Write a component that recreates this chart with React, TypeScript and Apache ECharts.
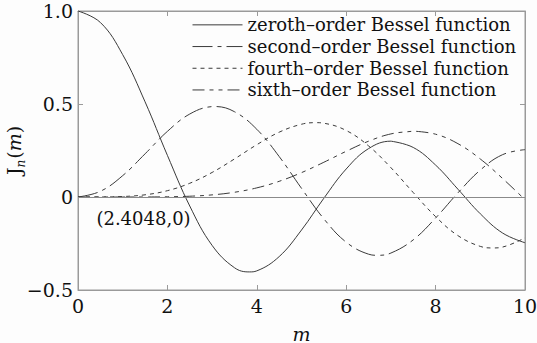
import React, { useEffect, useRef } from "react";
import * as echarts from "echarts";

// Sample points of m
const mValues = [0, 0.5, 1, 1.5, 2, 2.5, 3, 3.5, 4, 4.5, 5, 5.5, 6, 6.5, 7, 7.5, 8, 8.5, 9, 9.5, 10];

// Bessel function values J_n(m) at the sample points
const j0Values = [1, 0.9385, 0.7652, 0.5118, 0.2239, -0.0484, -0.2601, -0.3801, -0.3971, -0.3205, -0.1776, -0.0068, 0.1506, 0.2601, 0.3001, 0.2663, 0.1717, 0.0419, -0.0903, -0.1939, -0.2459];
const j2Values = [0, 0.0306, 0.1149, 0.2321, 0.3528, 0.4461, 0.4861, 0.4586, 0.3641, 0.2178, 0.0466, -0.1173, -0.2429, -0.3074, -0.3014, -0.2303, -0.113, 0.0223, 0.1448, 0.2279, 0.2546];
const j4Values = [0, 0.0002, 0.0025, 0.0118, 0.034, 0.0738, 0.132, 0.2044, 0.2811, 0.3484, 0.3912, 0.3967, 0.3576, 0.2748, 0.1578, 0.0238, -0.1054, -0.2077, -0.2655, -0.2691, -0.2196];
const j6Values = [0, 0, 0.00002, 0.0002, 0.0012, 0.0042, 0.0114, 0.0254, 0.0491, 0.0843, 0.131, 0.1868, 0.2458, 0.2999, 0.3392, 0.3541, 0.3376, 0.2867, 0.2043, 0.0993, -0.0145];

// Turning points [m, J_n(m)] of each curve inside 0..10
const j0Extrema = [[3.8317, -0.4028], [7.0156, 0.3001]];
const j2Extrema = [[3.0542, 0.4865], [6.7061, -0.3135]];
const j4Extrema = [[5.3176, 0.3997], [9.2824, -0.274]];
const j6Extrema = [[7.5013, 0.3543]];

const seriesNames = [
  "zeroth\u2013order Bessel function",
  "second\u2013order Bessel function",
  "fourth\u2013order Bessel function",
  "sixth\u2013order Bessel function",
];

const firstZero = [2.4048, 0];
const firstZeroLabel = "(2.4048,0)";

const FONT = "DejaVu Serif";
const LINE = "#3a3a3a";
const FRAME = "#9a9a9a";
const TEXT = "#111";

function curve(ys: number[], extra: number[][]) {
  const pts = mValues.map((m, i) => [m, ys[i]]).concat(extra);
  return pts.sort((a, b) => a[0] - b[0]);
}

export default function App() {
  const ref = useRef<HTMLDivElement>(null);

  useEffect(() => {
    if (!ref.current) return;
    const chart = echarts.init(ref.current, null, { renderer: "svg" });

    const dashes: (number[] | "solid")[] = [
      "solid",
      [20, 5, 4, 5],
      [4, 4],
      [12, 5, 4, 5, 4, 5],
    ];
    const data = [
      curve(j0Values, j0Extrema),
      curve(j2Values, j2Extrema),
      curve(j4Values, j4Extrema),
      curve(j6Values, j6Extrema),
    ];

    const series: any[] = data.map((pts, i) => ({
      type: "line",
      name: seriesNames[i],
      data: pts,
      smooth: 0.4,
      symbol: "none",
      legendIcon: "rect",
      lineStyle: { color: LINE, width: 1, type: dashes[i] },
      itemStyle: { color: LINE },
      z: 3,
    }));

    series[0].markLine = {
      silent: true,
      symbol: "none",
      label: { show: false },
      lineStyle: { color: "#8a8a8a", width: 1, type: "solid" },
      data: [{ yAxis: 0 }],
    };
    series[0].markPoint = {
      silent: true,
      symbol: "circle",
      symbolSize: 0,
      data: [{ coord: firstZero }],
      label: {
        show: true,
        formatter: firstZeroLabel,
        fontFamily: FONT,
        fontSize: 18,
        color: TEXT,
        offset: [-42, 21],
      },
    };

    const tickLabel = (v: number) =>
      v === 0 ? "0" : v < 0 ? "\u2212" + Math.abs(v).toFixed(1) : v.toFixed(1);

    const frameLine = { show: true, onZero: false, lineStyle: { color: FRAME } };
    const frameTick = { show: true, inside: true, length: 5, lineStyle: { color: FRAME } };

    chart.setOption({
      animation: false,
      backgroundColor: "#fdfdfd",
      grid: {
        left: 78,
        right: 12,
        top: 11,
        bottom: 53,
        containLabel: false,
        outerBoundsMode: "none",
        show: true,
        borderColor: FRAME,
        borderWidth: 1,
        backgroundColor: "transparent",
      },
      legend: {
        orient: "vertical",
        left: 192,
        top: 14,
        padding: 0,
        itemWidth: 50,
        itemHeight: 14,
        itemGap: 0,
        itemStyle: { opacity: 0 },
        lineStyle: { width: 1 },
        textStyle: { fontFamily: FONT, fontSize: 18, lineHeight: 21.7, color: TEXT },
        data: seriesNames,
      },
      xAxis: [
        {
          type: "value",
          min: 0,
          max: 10,
          interval: 2,
          position: "bottom",
          name: "m",
          nameLocation: "middle",
          nameGap: 34,
          nameMoveOverlap: false,
          nameTextStyle: { fontFamily: FONT, fontSize: 19, fontStyle: "italic", color: TEXT },
          axisLine: frameLine,
          axisTick: frameTick,
          axisLabel: { fontFamily: FONT, fontSize: 19, color: TEXT, margin: 6 },
          splitLine: { show: false },
        },
        {
          type: "value",
          min: 0,
          max: 10,
          interval: 2,
          position: "top",
          axisLine: frameLine,
          axisTick: frameTick,
          axisLabel: { show: false },
          splitLine: { show: false },
        },
      ],
      yAxis: [
        {
          type: "value",
          min: -0.5,
          max: 1,
          interval: 0.5,
          position: "left",
          name: "{j|J}{n|n}{p|(}{m|m}{p|)}",
          nameLocation: "middle",
          nameGap: 55,
          nameMoveOverlap: false,
          nameTextStyle: {
            color: TEXT,
            rich: {
              j: { fontFamily: FONT, fontSize: 19, color: TEXT, verticalAlign: "bottom", lineHeight: 22 },
              n: { fontFamily: FONT, fontSize: 12, fontStyle: "italic", color: TEXT, verticalAlign: "bottom", lineHeight: 12, padding: [0, 1, -4, 0] },
              p: { fontFamily: FONT, fontSize: 19, color: TEXT, verticalAlign: "bottom", lineHeight: 22 },
              m: { fontFamily: FONT, fontSize: 19, fontStyle: "italic", color: TEXT, verticalAlign: "bottom", lineHeight: 22 },
            },
          },
          axisLine: frameLine,
          axisTick: frameTick,
          axisLabel: { fontFamily: FONT, fontSize: 19, color: TEXT, margin: 5, formatter: tickLabel },
          splitLine: { show: false },
        },
        {
          type: "value",
          min: -0.5,
          max: 1,
          interval: 0.5,
          position: "right",
          axisLine: frameLine,
          axisTick: frameTick,
          axisLabel: { show: false },
          splitLine: { show: false },
        },
      ],
      series,
    });

    return () => chart.dispose();
  }, []);

  return (
    <div
      ref={ref}
      style={{ position: "fixed", left: 0, top: 0, width: 537, height: 343 }}
    />
  );
}
